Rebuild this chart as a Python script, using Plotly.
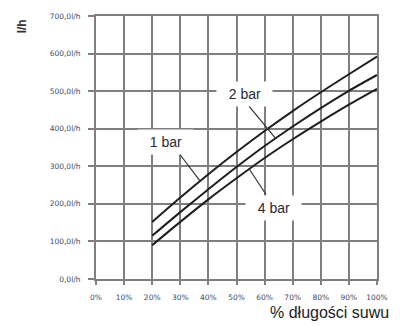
import plotly.graph_objects as go

# Stroke length (% of full stroke) and flow (l/h) for each pressure
stroke_pct = [20, 30, 40, 50, 60, 70, 80, 90, 100]
flow_1bar = [152, 217, 279, 338, 394, 447, 497, 545, 592]
flow_2bar = [115, 178, 239, 298, 354, 406, 455, 501, 543]
flow_4bar = [90, 152, 212, 268, 322, 372, 419, 464, 506]

x_ticks = [0, 10, 20, 30, 40, 50, 60, 70, 80, 90, 100]
x_ticktext = ["0%", "10%", "20%", "30%", "40%", "50%", "60%", "70%", "80%", "90%", "100%"]
y_ticks = [0, 100, 200, 300, 400, 500, 600, 700]
y_ticktext = ["0,0l/h", "100,0l/h", "200,0l/h", "300,0l/h", "400,0l/h",
              "500,0l/h", "600,0l/h", "700,0l/h"]

GRID = "#7f7f7f"
LABEL_BLUE = "#3c4a6e"
NARROW = "Liberation Sans Narrow, Arial Narrow, Liberation Sans, sans-serif"

fig = go.Figure()
for ys in (flow_1bar, flow_2bar, flow_4bar):
    fig.add_trace(go.Scatter(
        x=stroke_pct, y=ys, mode="lines",
        line=dict(color="#1e1e1e", width=2, shape="spline", smoothing=0.8),
        showlegend=False, hoverinfo="skip",
    ))

# leader lines from the pressure labels to their curves
leaders = [
    ((30.0, 330), (37.0, 261)),   # 1 bar
    ((54.0, 464), (63.9, 374)),   # 2 bar
    ((60.5, 225), (54.6, 292)),   # 4 bar
]
for (x0, y0), (x1, y1) in leaders:
    fig.add_shape(type="line", x0=x0, y0=y0, x1=x1, y1=y1,
                  line=dict(color="#333333", width=1.2), layer="above")

labels = [("1 bar", 24.7, 364), ("2 bar", 53.0, 493), ("4 bar", 63.0, 189)]
for text, lx, ly in labels:
    fig.add_annotation(
        x=lx, y=ly, text="&nbsp;&nbsp;" + text + "&nbsp;&nbsp;", showarrow=False,
        font=dict(family=NARROW, size=14, color="#2a2a33"),
        bgcolor="white", borderpad=4,
    )

# axis titles
fig.add_annotation(
    xref="paper", yref="paper", x=-0.296, y=0.96, yanchor="middle",
    text="<b>l/h</b>", textangle=-90, showarrow=False,
    font=dict(family="Liberation Sans, Arial, sans-serif", size=12, color="#333333"),
)
fig.add_annotation(
    xref="paper", yref="paper", x=1.05, y=-0.127, xanchor="right", yanchor="middle",
    text="% długości suwu", showarrow=False,
    font=dict(family=NARROW, size=16, color="#222222"),
)

fig.update_xaxes(
    range=[0, 100], tickvals=x_ticks, ticktext=x_ticktext,
    showgrid=True, gridcolor=GRID, gridwidth=1.6,
    showline=True, linecolor=GRID, linewidth=2, mirror=True,
    ticks="outside", ticklen=4, tickcolor=GRID, tickwidth=1.5,
    tickfont=dict(family="DejaVu Sans, sans-serif", size=7.5, color=LABEL_BLUE),
    ticklabelstandoff=6, zeroline=False,
)
fig.update_yaxes(
    range=[0, 700], tickvals=y_ticks, ticktext=y_ticktext,
    showgrid=True, gridcolor=GRID, gridwidth=1.6,
    showline=True, linecolor=GRID, linewidth=2, mirror=True,
    ticks="outside", ticklen=6, tickcolor=GRID, tickwidth=1.5,
    tickfont=dict(family="DejaVu Sans, sans-serif", size=7.5, color=LABEL_BLUE),
    ticklabelstandoff=6, zeroline=False,
)

fig.update_layout(
    width=400, height=326,
    margin=dict(l=96, r=13, t=12, b=47),
    paper_bgcolor="white", plot_bgcolor="white",
)

fig.write_html("out.html")
